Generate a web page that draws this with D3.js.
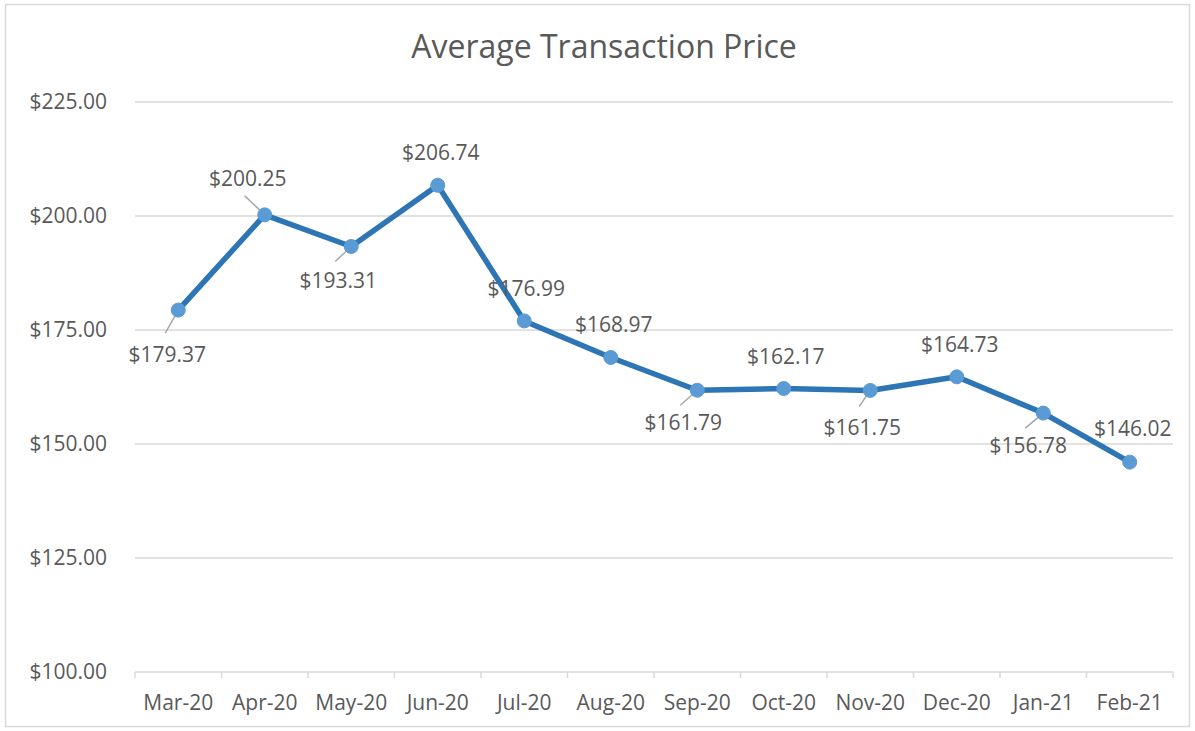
<!DOCTYPE html>
<html>
<head>
<meta charset="utf-8">
<script src="https://cdn.jsdelivr.net/npm/d3@7"></script>
<style>
  body { margin: 0; background: #fff; }
  text { font-family: "Open Sans", "Liberation Sans", sans-serif; fill: #595959; }
</style>
</head>
<body>
<div id="chart"></div>
<script>
//Chart data
let months = ['Mar-20', 'Apr-20', 'May-20', 'Jun-20', 'Jul-20', 'Aug-20', 'Sep-20', 'Oct-20', 'Nov-20', 'Dec-20', 'Jan-21', 'Feb-21'];
let prices = [179.37, 200.25, 193.31, 206.74, 176.99, 168.97, 161.79, 162.17, 161.75, 164.73, 156.78, 146.02];
let yTicks = [100, 125, 150, 175, 200, 225];

//Data label placement relative to its point: [dx, dy of baseline], plus leader line end (or null)
let labelOffset = [
    [-11, 52], [-17, -29], [-13, 41], [3, -25], [2, -25], [3, -25],
    [-14, 40], [2, -25], [-8, 45], [3, -25], [-15, 40], [3, -26]
];
let leaderEnd = [
    [-13, 23], [-20, -19], [-16, 15], null, null, null,
    [-17, 15], null, [-11, 16], null, [-18, 15], null
];

let width = 1195, height = 731;
let margin = {left: 135, right: 22, top: 102, bottom: 59};

let svg = d3.select('#chart').append('svg').attr('width', width).attr('height', height);

//Outer chart border
svg.append('rect').attr('x', 5.5).attr('y', 4.5).attr('width', width - 11).attr('height', height - 9)
    .attr('fill', 'none').attr('stroke', '#D9D9D9').attr('stroke-width', 1.5);

let x = d3.scaleBand().domain(months).range([margin.left, width - margin.right]);
let y = d3.scaleLinear().domain([100, 225]).range([height - margin.bottom, margin.top]);

//Title
svg.append('text').attr('x', 604).attr('y', 58).attr('text-anchor', 'middle')
    .style('font-size', '32px').text('Average Transaction Price');

//Gridlines
svg.append('g').selectAll('line').data(yTicks.slice(1)).enter().append('line')
    .attr('x1', margin.left).attr('x2', width - margin.right)
    .attr('y1', d => y(d)).attr('y2', d => y(d))
    .attr('stroke', '#D9D9D9').attr('stroke-width', 1.5);

//Y axis labels
let yAxis = d3.axisLeft(y).tickValues(yTicks).tickSize(0).tickPadding(28).tickFormat(d => '$' + d3.format('.2f')(d));
let yG = svg.append('g').attr('transform', 'translate(' + margin.left + ',0)').call(yAxis);
yG.select('.domain').remove();
yG.attr('font-family', null);
yG.selectAll('text').style('font-size', '21px').attr('fill', null);

//X axis with tick marks on category boundaries
let base = y(100);
svg.append('line').attr('x1', margin.left).attr('x2', width - margin.right)
    .attr('y1', base).attr('y2', base).attr('stroke', '#D9D9D9').attr('stroke-width', 1.5);
let bounds = months.map(m => x(m)).concat([width - margin.right]);
svg.append('g').selectAll('line').data(bounds).enter().append('line')
    .attr('x1', d => d).attr('x2', d => d).attr('y1', base).attr('y2', base + 6)
    .attr('stroke', '#D9D9D9').attr('stroke-width', 1.5);
svg.append('g').selectAll('text').data(months).enter().append('text')
    .attr('x', d => x(d) + x.bandwidth() / 2).attr('y', base + 38)
    .attr('text-anchor', 'middle').style('font-size', '21px').text(d => d);

let cx = i => x(months[i]) + x.bandwidth() / 2;

//Leader lines
svg.append('g').selectAll('line').data(prices).enter().filter((d, i) => leaderEnd[i] !== null).append('line')
    .attr('x1', d => cx(prices.indexOf(d))).attr('y1', d => y(d))
    .attr('x2', d => cx(prices.indexOf(d)) + leaderEnd[prices.indexOf(d)][0])
    .attr('y2', d => y(d) + leaderEnd[prices.indexOf(d)][1])
    .attr('stroke', '#A6A6A6').attr('stroke-width', 1.5);

//Line
let line = d3.line().x((d, i) => cx(i)).y(d => y(d));
svg.append('path').datum(prices).attr('d', line).attr('fill', 'none')
    .attr('stroke', '#2E75B6').attr('stroke-width', 5.5).attr('stroke-linejoin', 'round');

//Markers
svg.append('g').selectAll('circle').data(prices).enter().append('circle')
    .attr('cx', (d, i) => cx(i)).attr('cy', d => y(d)).attr('r', 7)
    .attr('fill', '#5B9BD5').attr('stroke', '#5B9BD5');

//Data labels
svg.append('g').selectAll('text').data(prices).enter().append('text')
    .attr('x', (d, i) => cx(i) + labelOffset[i][0])
    .attr('y', (d, i) => y(d) + labelOffset[i][1])
    .attr('text-anchor', 'middle').style('font-size', '21px')
    .text(d => '$' + d3.format('.2f')(d));
</script>
</body>
</html>
